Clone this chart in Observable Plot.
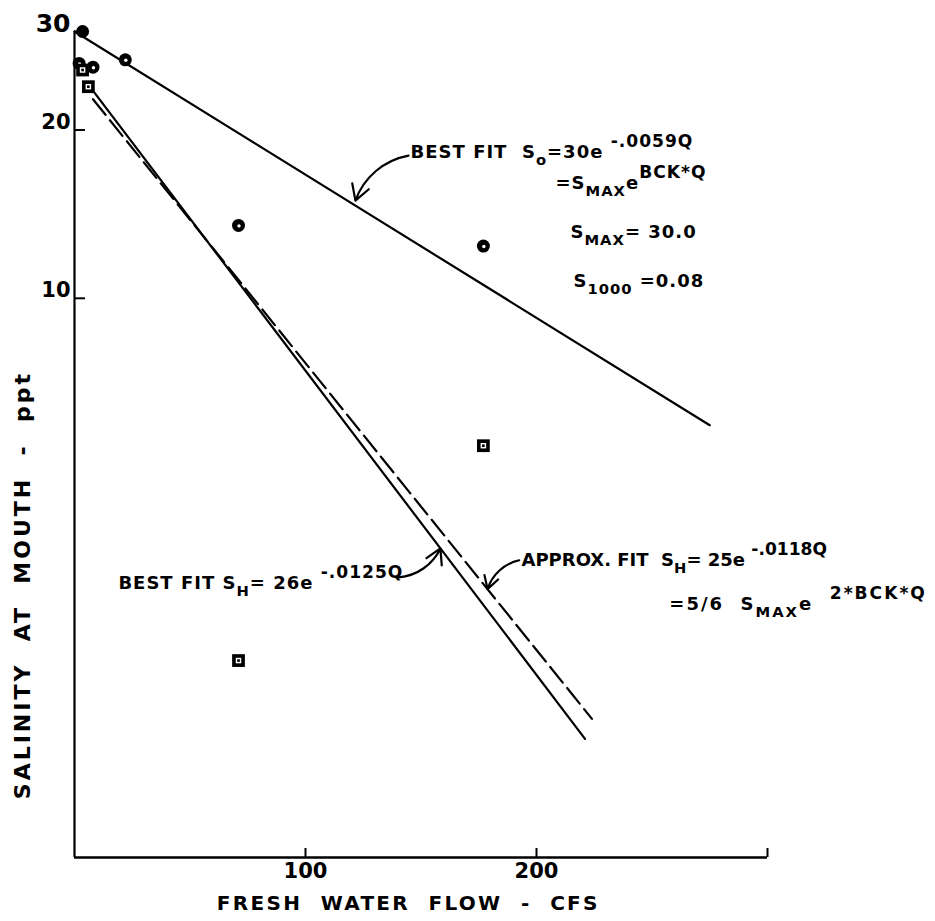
<!DOCTYPE html>
<html>
<head>
<meta charset="utf-8">
<script src="https://cdn.jsdelivr.net/npm/d3@7"></script>
<script src="https://cdn.jsdelivr.net/npm/@observablehq/plot@0.6"></script>
<style>
  body { margin: 0; background: #fff; }
  #chart svg { display: block; }
</style>
</head>
<body>
<div id="chart"></div>
<script>
// ---------- data ----------
const xTickLabels = [100, 200];
const xTickMarks = [100, 200, 300];
const yTicks = [30, 20, 10];

// S_o observations (circles): fresh water flow Q (cfs), salinity (ppt)
const oceanQ = [3.5, 2, 8, 22, 71, 177];
const oceanS = [30.0, 26.3, 25.9, 26.7, 13.5, 12.4];

// S_H observations (squares)
const headQ = [3.5, 6, 71, 177];
const headS = [25.6, 23.9, 2.25, 5.45];

// fitted lines (end points, straight on the semi-log plot)
const fitOceanQ = [0, 275];
const fitOceanS = [30, 5.93];
const fitHeadBestQ = [6, 221];
const fitHeadBestS = [24.1, 1.63];
const fitHeadApproxQ = [8, 224];
const fitHeadApproxS = [22.7, 1.77];

// annotations (anchor in data units) and their arrows
const notes = [
  {Q: 145.5, S: 18.24, label: "BEST FIT  S_{o}=30e ^{-.0059Q}"},
  {Q: 208.2, S: 16.06, label: "=S_{MAX}e^{BCK*Q}"},
  {Q: 214.7, S: 13.13, label: "S_{MAX}= 30.0"},
  {Q: 216.0, S: 10.72, label: "S_{1000} =0.08"},
  {Q: 19.0,  S: 3.09,  label: "BEST FIT S_{H}= 26e ^{-.0125Q}"},
  {Q: 193.5, S: 3.40,  label: "APPROX. FIT  S_{H}= 25e ^{-.0118Q}"},
  {Q: 257.5, S: 2.835, label: "=5/6  S_{MAX}e  ^{2*BCK*Q}"}
];
const arrows = [
  {Q1: 144.6, S1: 18.0, Q2: 121.6, S2: 14.95},
  {Q1: 140.3, S1: 3.17, Q2: 158.4, S2: 3.57},
  {Q1: 192.5, S1: 3.40, Q2: 178.8, S2: 3.02}
];

const xLabel = "FRESH  WATER  FLOW  -  CFS";
const yLabel = "SALINITY  AT  MOUTH  -  ppt";

// ---------- build tables ----------
const ocean = oceanQ.map((q, i) => ({Q: q, S: oceanS[i]}));
const head = headQ.map((q, i) => ({Q: q, S: headS[i]}));
const toPts = (qs, ss) => qs.map((q, i) => ({Q: q, S: ss[i]}));
const fitOcean = toPts(fitOceanQ, fitOceanS);
const fitBest = toPts(fitHeadBestQ, fitHeadBestS);
const fitApprox = toPts(fitHeadApproxQ, fitHeadApproxS);

const font = "DejaVu Sans";

const chart = Plot.plot({
  width: 935,
  height: 921,
  marginLeft: 74,
  marginRight: 168,
  marginTop: 31,
  marginBottom: 64,
  style: {background: "#fff", color: "#000"},
  x: {domain: [0, 300], label: null},
  y: {type: "log", domain: [1, 30], label: null},
  marks: [
    // axis lines
    Plot.ruleX([0], {y1: 1, y2: 30, stroke: "#000", strokeWidth: 2.2}),
    Plot.ruleY([1], {x1: 0, x2: 300, stroke: "#000", strokeWidth: 2.6}),
    // inward ticks
    Plot.axisX(xTickMarks, {tickSize: -9, tickFormat: () => "", strokeWidth: 2}),
    Plot.axisY(yTicks, {tickSize: -11, tickFormat: () => "", strokeWidth: 2}),
    // tick labels
    Plot.axisX(xTickLabels, {tickSize: 0, tickPadding: 6, fontSize: 21, fontWeight: "bold", fontFamily: font, tickFormat: d => String(d)}),
    Plot.text(yTicks, {y: d => d, text: d => String(d), frameAnchor: "left", textAnchor: "end", dx: -4, dy: -8,
      fontSize: d => (d === 30 ? 25 : 21), fontWeight: "bold", fontFamily: font}),
    // axis titles
    Plot.text([{Q: 144.5, t: xLabel}], {x: "Q", text: "t", frameAnchor: "bottom", dy: 52, textAnchor: "middle",
      fontSize: 20, fontWeight: "bold", fontFamily: font}),
    Plot.text([{S: 3.07, t: yLabel}], {y: "S", text: "t", frameAnchor: "left", dx: -52, rotate: -90, textAnchor: "middle",
      fontSize: 22, fontWeight: "bold", fontFamily: font}),
    // fitted lines
    Plot.line(fitOcean, {x: "Q", y: "S", stroke: "#000", strokeWidth: 2.2}),
    Plot.line(fitBest, {x: "Q", y: "S", stroke: "#000", strokeWidth: 2.2}),
    Plot.line(fitApprox, {x: "Q", y: "S", stroke: "#000", strokeWidth: 2.2, strokeDasharray: "20,7"}),
    // observations: circles
    Plot.dot(ocean, {x: "Q", y: "S", r: 6.5, fill: "#000", stroke: "none"}),
    Plot.dot(ocean, {x: "Q", y: "S", r: 1.7, fill: "#fff", stroke: "none", dx: 0.5, dy: 0.5, filter: (d, i) => i > 0}),
    // observations: squares
    Plot.dot(head, {x: "Q", y: "S", r: 7.2, symbol: "square", fill: "#000", stroke: "none"}),
    Plot.dot(head, {x: "Q", y: "S", r: 3.1, symbol: "square", fill: "#fff", stroke: "none"}),
    Plot.dot(head, {x: "Q", y: "S", r: 1.5, symbol: "square", fill: "#000", stroke: "none"}),
    // annotations
    Plot.text(notes, {x: "Q", y: "S", text: "label", textAnchor: "start", lineAnchor: "middle",
      fontSize: 18, fontWeight: "bold", fontFamily: font}),
    Plot.arrow(arrows, {x1: "Q1", y1: "S1", x2: "Q2", y2: "S2", bend: -30, headLength: 12, strokeWidth: 2.2, stroke: "#000"})
  ]
});

// turn _{..} and ^{..} markup into sub/superscripts
function richify(el) {
  const src = el.textContent;
  if (!/[_^]\{/.test(src)) return;
  el.textContent = "";
  el.setAttribute("letter-spacing", src.startsWith("APPROX") ? "0" : src.startsWith("=5/6") ? "2" : "1");
  const parts = src.split(/(_\{[^}]*\}|\^\{[^}]*\})/).filter(s => s.length);
  let base = 0;
  for (const p of parts) {
    let shift = 0, txt = p, size = null;
    if (p.startsWith("_{")) { shift = 7; txt = p.slice(2, -1); size = "0.82em"; }
    else if (p.startsWith("^{")) { shift = -11; txt = p.slice(2, -1); size = "0.95em"; }
    const ts = document.createElementNS("http://www.w3.org/2000/svg", "tspan");
    ts.setAttribute("dy", String(shift - base));
    if (size) ts.setAttribute("font-size", size);
    ts.textContent = txt;
    el.appendChild(ts);
    base = shift;
  }
}
chart.querySelectorAll("text").forEach(el => {
  if (el.textContent === xLabel) el.setAttribute("letter-spacing", "2.3");
  else if (el.textContent === yLabel) el.setAttribute("letter-spacing", "3");
  else richify(el);
});

document.getElementById("chart").appendChild(chart);
</script>
</body>
</html>
